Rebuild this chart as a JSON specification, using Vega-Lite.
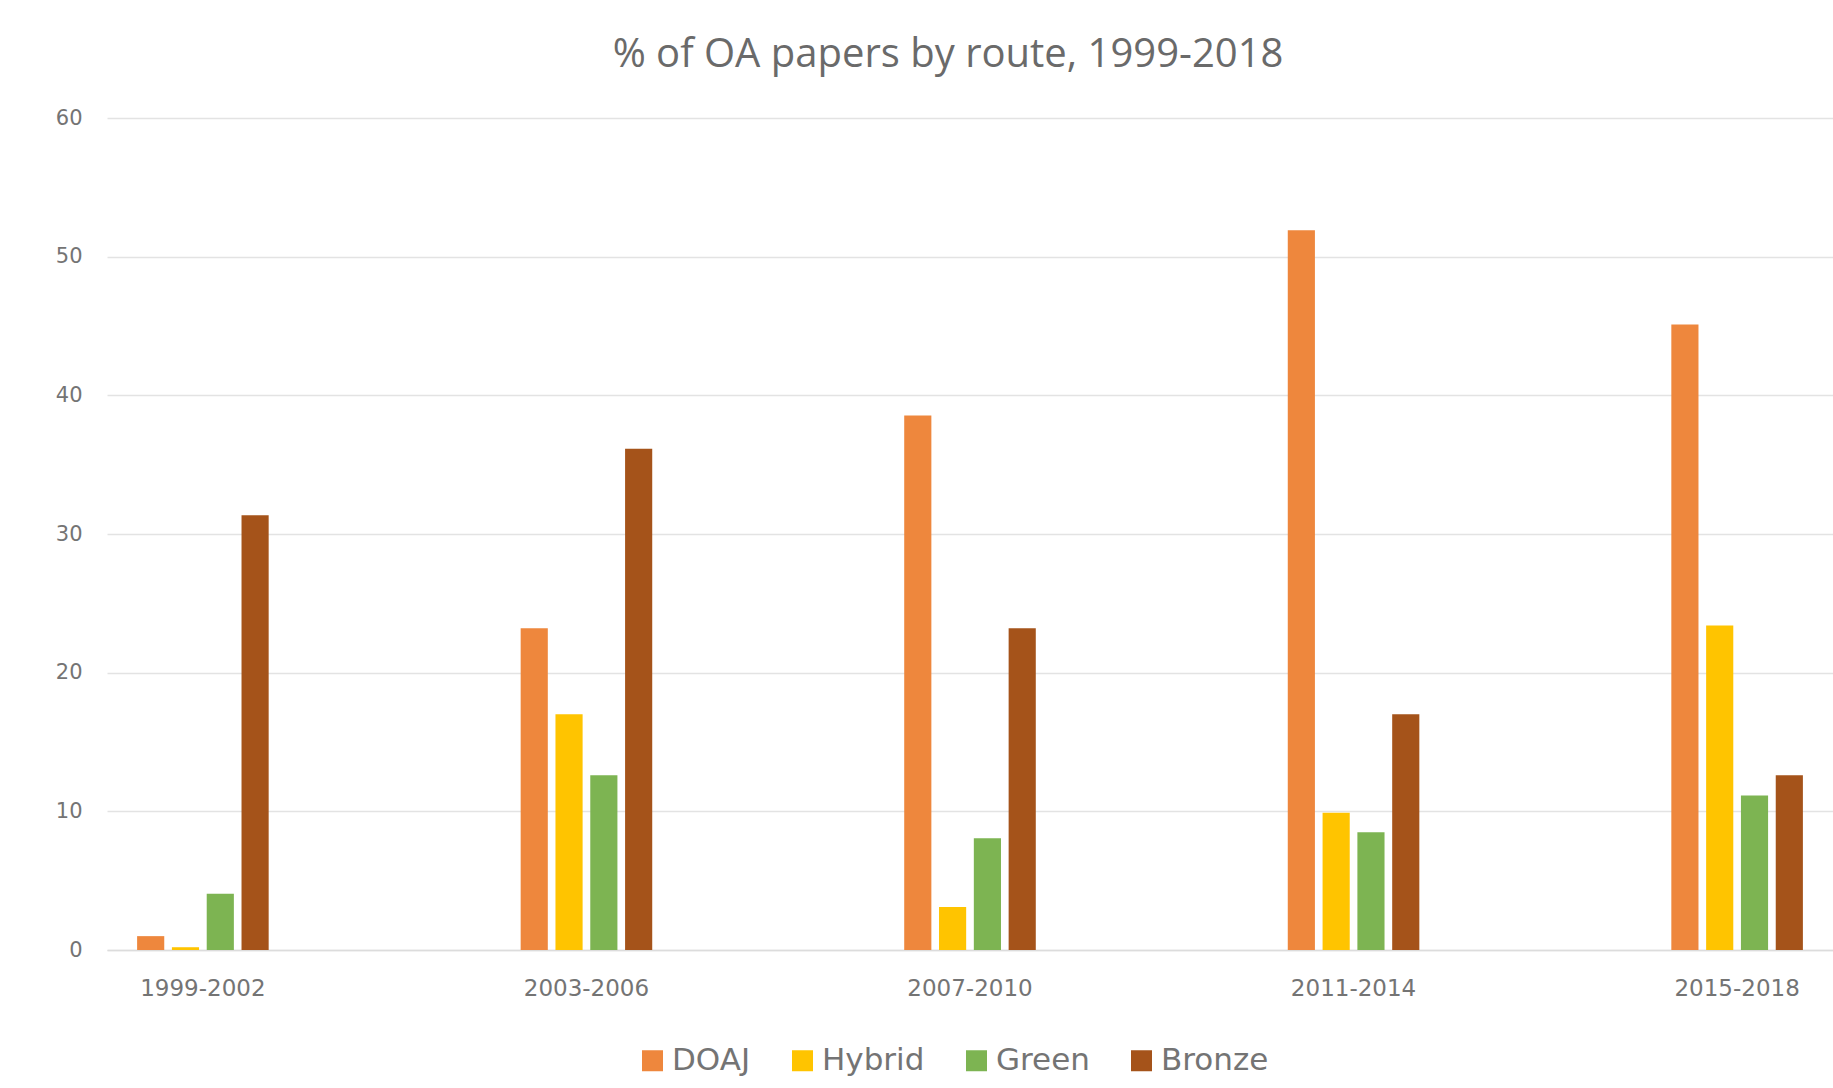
{
  "$schema": "https://vega.github.io/schema/vega-lite/v6.json",
  "width": 1726,
  "height": 832,
  "autosize": {"type": "none"},
  "padding": {"left": 107, "top": 118, "right": 0, "bottom": 138},
  "background": "white",
  "title": {
    "text": "% of OA papers by route, 1999-2018",
    "font": "Open Sans",
    "fontSize": 40,
    "fontWeight": "normal",
    "color": "#6a6a6a",
    "offset": 32,
    "dx": -22
  },
  "data": {
    "values": [
      {"period": "1999-2002", "route": "DOAJ", "pct": 1.0},
      {"period": "1999-2002", "route": "Hybrid", "pct": 0.2},
      {"period": "1999-2002", "route": "Green", "pct": 4.05},
      {"period": "1999-2002", "route": "Bronze", "pct": 31.35},
      {"period": "2003-2006", "route": "DOAJ", "pct": 23.2},
      {"period": "2003-2006", "route": "Hybrid", "pct": 17.0},
      {"period": "2003-2006", "route": "Green", "pct": 12.6},
      {"period": "2003-2006", "route": "Bronze", "pct": 36.15},
      {"period": "2007-2010", "route": "DOAJ", "pct": 38.55},
      {"period": "2007-2010", "route": "Hybrid", "pct": 3.1},
      {"period": "2007-2010", "route": "Green", "pct": 8.05},
      {"period": "2007-2010", "route": "Bronze", "pct": 23.2},
      {"period": "2011-2014", "route": "DOAJ", "pct": 51.9},
      {"period": "2011-2014", "route": "Hybrid", "pct": 9.9},
      {"period": "2011-2014", "route": "Green", "pct": 8.5},
      {"period": "2011-2014", "route": "Bronze", "pct": 17.0},
      {"period": "2015-2018", "route": "DOAJ", "pct": 45.1},
      {"period": "2015-2018", "route": "Hybrid", "pct": 23.4},
      {"period": "2015-2018", "route": "Green", "pct": 11.15},
      {"period": "2015-2018", "route": "Bronze", "pct": 12.6}
    ]
  },
  "mark": {"type": "bar"},
  "encoding": {
    "x": {
      "field": "period",
      "type": "nominal",
      "sort": ["1999-2002", "2003-2006", "2007-2010", "2011-2014", "2015-2018"],
      "scale": {"paddingInner": 0.5, "paddingOuter": 0},
      "axis": {
        "title": null,
        "labelAngle": 0,
        "ticks": false,
        "domain": true,
        "domainColor": "#dcdcdc",
        "domainWidth": 1.5,
        "labelFont": "DejaVu Sans",
        "labelFontSize": 23,
        "labelColor": "#747474",
        "labelPadding": 27
      }
    },
    "xOffset": {
      "field": "route",
      "type": "nominal",
      "sort": ["DOAJ", "Hybrid", "Green", "Bronze"],
      "scale": {"paddingInner": 0.22, "paddingOuter": 0.865}
    },
    "y": {
      "field": "pct",
      "type": "quantitative",
      "scale": {"domain": [0, 60]},
      "axis": {
        "title": null,
        "values": [0, 10, 20, 30, 40, 50, 60],
        "grid": true,
        "gridColor": "#e3e3e3",
        "gridWidth": 1.5,
        "domain": false,
        "ticks": false,
        "labelFont": "DejaVu Sans",
        "labelFontSize": 21,
        "labelColor": "#747474",
        "labelPadding": 25
      }
    },
    "color": {
      "field": "route",
      "type": "nominal",
      "sort": ["DOAJ", "Hybrid", "Green", "Bronze"],
      "scale": {
        "domain": ["DOAJ", "Hybrid", "Green", "Bronze"],
        "range": ["#EE873D", "#FFC400", "#7DB452", "#A5531A"]
      },
      "legend": {
        "title": null,
        "orient": "none",
        "direction": "horizontal",
        "legendX": 530,
        "legendY": 927,
        "symbolType": "square",
        "symbolSize": 441,
        "symbolStrokeWidth": 0,
        "labelFont": "DejaVu Sans",
        "labelFontSize": 31,
        "labelColor": "#747474",
        "labelOffset": 4,
        "columnPadding": 36,
        "labelLimit": 400
      }
    }
  },
  "config": {"view": {"stroke": null}}
}
